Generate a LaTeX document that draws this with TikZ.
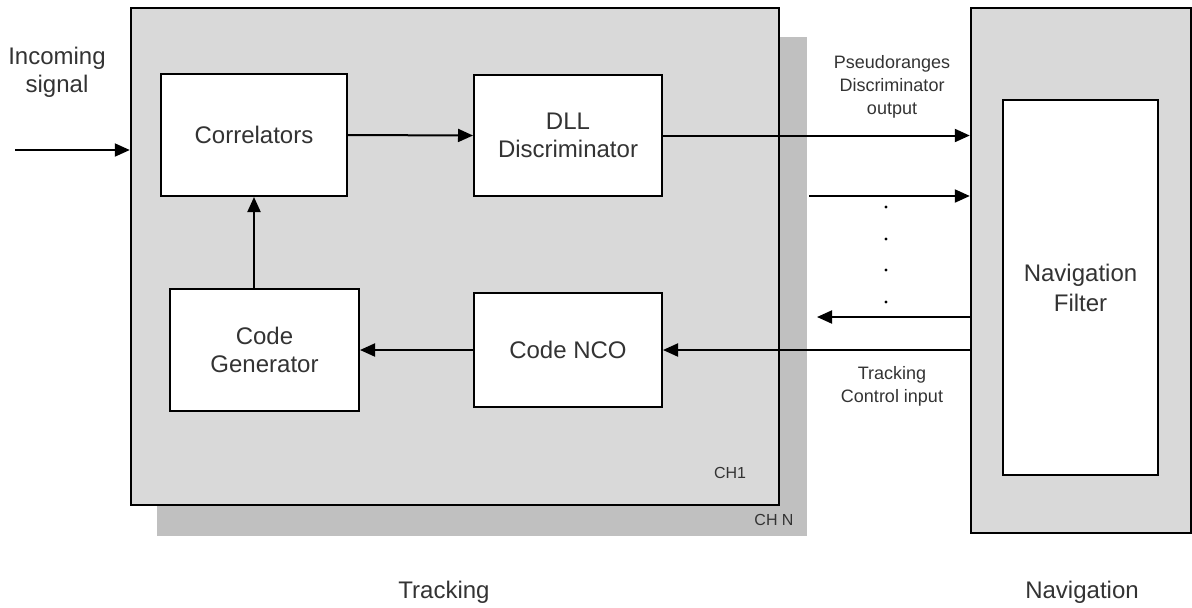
\documentclass[tikz,border=0pt]{standalone}
\usepackage{fontspec}
\setmainfont{Liberation Sans}
\usetikzlibrary{arrows.meta}
\definecolor{bgA}{HTML}{D9D9D9}
\definecolor{bgB}{HTML}{C0C0C0}
\definecolor{txt}{HTML}{333333}
\begin{document}
\begin{tikzpicture}[x=0.5pt,y=-0.5pt,
  blk/.style={draw=black, line width=1pt, fill=white, inner sep=0pt, text=txt, align=center, font=\fontsize{12}{14}\selectfont},
  conn/.style={line width=1pt, -{Triangle[length=7.5pt,width=6.5pt]}},
  lbl/.style={text=txt, align=center, inner sep=0pt},
  big/.style={lbl, font=\fontsize{12}{14}\selectfont},
  small/.style={lbl, font=\fontsize{9}{11.5}\selectfont},
  tiny/.style={lbl, font=\fontsize{8}{10}\selectfont},
  dot/.style={circle, fill=black, inner sep=0pt, minimum size=1.6pt}]
\useasboundingbox (0,0) rectangle (1192,607);
% panels
\node[fill=bgB, inner sep=0pt, minimum width=325pt, minimum height=249.5pt] (shd) at (482,286.5) {};
\node[draw=black, line width=1.2pt, fill=bgA, inner sep=0pt, minimum width=324pt, minimum height=248.5pt] (trk) at (455,256.5) {};
\node[draw=black, line width=1.2pt, fill=bgA, inner sep=0pt, minimum width=110pt, minimum height=262.5pt] (nav) at (1081,270.5) {};
% blocks
\node[blk, minimum width=93pt, minimum height=61pt] (corr) at (254,135) {Correlators};
\node[blk, minimum width=94pt, minimum height=60.5pt] (dll) at (568,135.5) {DLL\\Discriminator};
\node[blk, minimum width=94.5pt, minimum height=61pt] (cg) at (264.5,350) {Code\\Generator};
\node[blk, minimum width=94pt, minimum height=57pt] (nco) at (568,350) {Code NCO};
\node[blk, minimum width=77.5pt, minimum height=187.5pt, font=\fontsize{12}{15}\selectfont] (nf) at (1080.5,287.5) {Navigation\\Filter};
% labels
\node[big] (lin) at (57,72) {Incoming\\signal};
\node[small] (lpr) at (892,87) {Pseudoranges\\Discriminator\\output};
\node[small] (ltc) at (892,386) {Tracking\\Control input};
\node[tiny] (lch1) at (730,473) {CH1};
\node[tiny] (lchn) at (774,520) {CH N};
\node[big] (ltrk) at (444,592) {Tracking};
\node[big] (lnav) at (1082,592) {Navigation};
% dots
\node[dot] (d1) at (886,207) {};
\node[dot] (d2) at (886,239) {};
\node[dot] (d3) at (886,270) {};
\node[dot] (d4) at (886,302) {};
% connectors
\coordinate (in) at (15,150);
\coordinate (a2) at (809,196);
\coordinate (a3) at (817,317);
\draw[conn] (in) -- (in -| trk.west);
\draw[conn] (corr.east) -- (dll.west);
\draw[conn] (dll.east) -- (dll.east -| nav.west);
\draw[conn] (a2) -- (a2 -| nav.west);
\draw[conn] (a3 -| nav.west) -- (a3);
\draw[conn] (nav.west |- nco.east) -- (nco.east);
\draw[conn] (nco.west) -- (cg.east);
\draw[conn] (corr.south |- cg.north) -- (corr.south);
\end{tikzpicture}
\end{document}
